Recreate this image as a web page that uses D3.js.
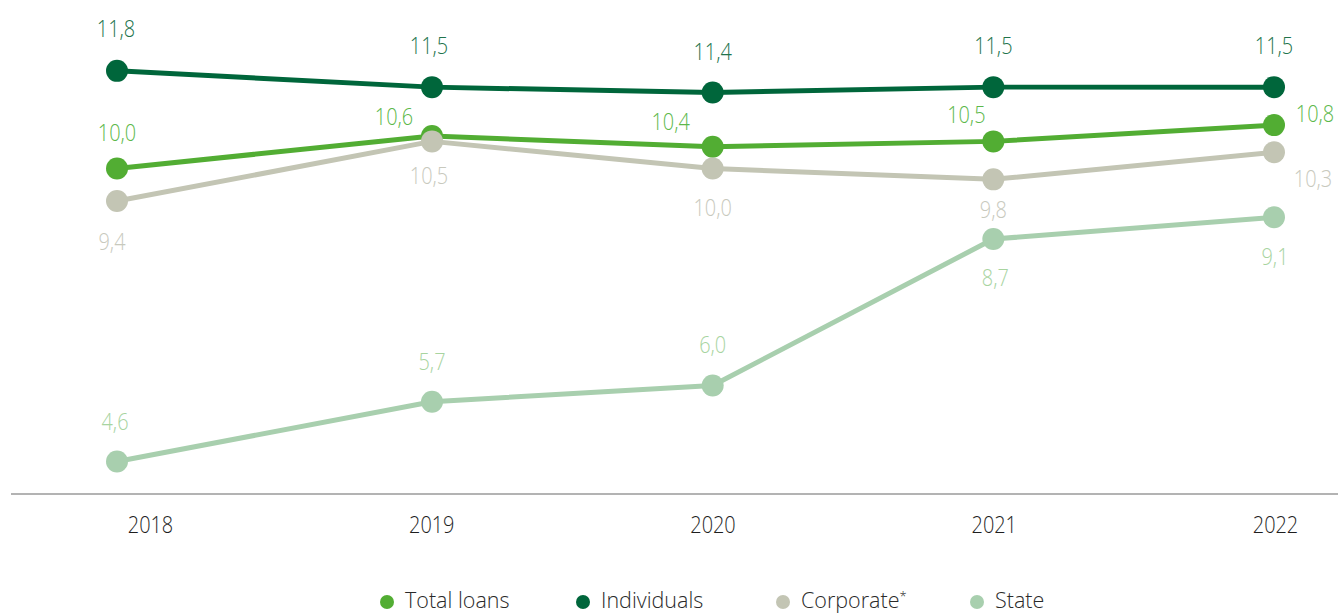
<!DOCTYPE html>
<html>
<head>
<meta charset="utf-8">
<script src="https://cdn.jsdelivr.net/npm/d3@7"></script>
<style>
  html, body { margin: 0; padding: 0; background: #fff; }
  svg { display: block; }
  text { font-family: "Open Sans", "Noto Sans", sans-serif; }
</style>
</head>
<body>
<svg id="chart" width="1338" height="613"></svg>
<script>
// Years on the horizontal axis
const years = [2018, 2019, 2020, 2021, 2022];

// Series values (%)
const totalLoans  = [10.0, 10.6, 10.4, 10.5, 10.8];
const individuals = [11.8, 11.5, 11.4, 11.5, 11.5];
const corporate   = [9.4, 10.5, 10.0, 9.8, 10.3];
const state       = [4.6, 5.7, 6.0, 8.7, 9.1];

const seriesNames = ["Total loans", "Individuals", "Corporate", "State"];

// Presentation: colours and value-label offsets per point (dx, dy from marker centre)
const colors = {
  "Total loans": "#52ad33",
  "Individuals": "#00663b",
  "Corporate":   "#c3c5b4",
  "State":       "#a8cfae"
};
const labelColors = {
  "Total loans": "#5cb84a",
  "Individuals": "#21734b",
  "Corporate":   "#c8c9bd",
  "State":       "#a8d49f"
};
const labelOffsets = {
  "Total loans": [[0, -28], [-38, -11], [-42, -17], [-27, -18], [41, -3]],
  "Individuals": [[-1, -34], [-3, -33], [0, -33], [0, -33], [0, -33]],
  "Corporate":   [[-5, 49], [-3, 43], [0, 47], [0, 39], [39, 35]],
  "State":       [[-2, -31], [0, -32], [0, -33], [2, 47], [1, 48]]
};

const seriesData = {
  "Total loans": totalLoans,
  "Individuals": individuals,
  "Corporate": corporate,
  "State": state
};

const svg = d3.select("#chart");
const W = 1338, H = 613;
const NARROW = 0.83; // horizontal squeeze for numeric labels

// Category positions for the axis labels
const xLabel = d3.scalePoint().domain(years).range([150, 1275]);
// Marker positions along the time axis
const x = d3.scaleLinear().domain([2018, 2019, 2022]).range([117, 432, 1274]);
const y = d3.scaleLinear().domain([4, 12]).range([494, 60]);

const fmt = v => d3.format(".1f")(v).replace(".", ",");

// Baseline
svg.append("line")
  .attr("x1", 11).attr("x2", W)
  .attr("y1", y(4)).attr("y2", y(4))
  .attr("stroke", "#9a9a9a").attr("stroke-width", 1.6);

// Year labels
const xAxis = d3.axisBottom(xLabel).tickSize(0).tickPadding(0);
const gx = svg.append("g").attr("transform", `translate(0,${y(4)})`).call(xAxis);
gx.select(".domain").remove();
gx.selectAll(".tick text")
  .attr("y", 0).attr("dy", 0)
  .attr("transform", `translate(0,39) scale(${NARROW},1)`)
  .style("font-family", "'Open Sans', sans-serif")
  .style("font-size", "24px")
  .style("font-weight", 300)
  .attr("fill", "#1e1e1e");

const line = d3.line().x(d => x(d.year)).y(d => y(d.value));

seriesNames.forEach(name => {
  const pts = years.map((yr, i) => ({ year: yr, value: seriesData[name][i], i }));
  const g = svg.append("g").attr("class", "series");
  g.append("path")
    .datum(pts)
    .attr("d", line)
    .attr("fill", "none")
    .attr("stroke", colors[name])
    .attr("stroke-width", 5)
    .attr("stroke-linejoin", "round");
  g.selectAll("circle")
    .data(pts)
    .join("circle")
    .attr("cx", d => x(d.year))
    .attr("cy", d => y(d.value))
    .attr("r", 11)
    .attr("fill", colors[name]);
  g.selectAll("text")
    .data(pts)
    .join("text")
    .attr("transform", d => {
      const tx = x(d.year) + labelOffsets[name][d.i][0];
      const ty = y(d.value) + labelOffsets[name][d.i][1];
      return `translate(${tx},${ty}) scale(${NARROW},1)`;
    })
    .attr("text-anchor", "middle")
    .style("font-size", "24px")
    .style("font-weight", 300)
    .attr("fill", labelColors[name])
    .text(d => fmt(d.value));
});

// Legend
const legendX = [387, 583, 783, 977];
const legend = svg.append("g").attr("class", "legend");
seriesNames.forEach((name, i) => {
  const lg = legend.append("g").attr("transform", `translate(${legendX[i]},602)`);
  lg.append("circle").attr("r", 7).attr("fill", colors[name]);
  const t = lg.append("text")
    .attr("x", 18).attr("y", 6)
    .style("font-size", "21.5px")
    .style("font-weight", 300)
    .attr("fill", "#2a2a2a");
  t.append("tspan").text(name);
  if (name === "Corporate") {
    t.append("tspan").attr("dy", -7).style("font-size", "13px").text("*");
  }
});
</script>
</body>
</html>
